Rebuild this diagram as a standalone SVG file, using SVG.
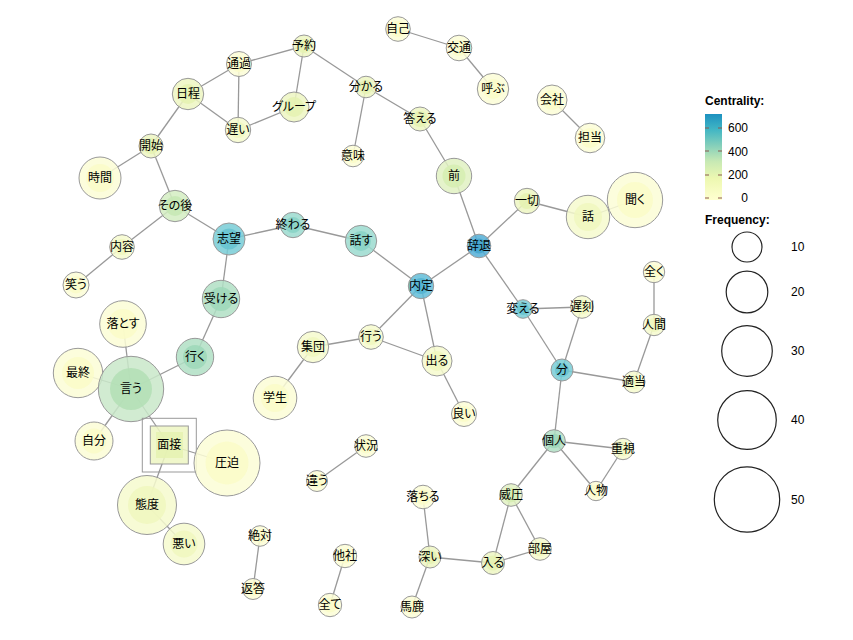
<svg xmlns="http://www.w3.org/2000/svg" width="853" height="640" viewBox="0 0 853 640">
<style>
.e{stroke:#999;stroke-width:1.3;fill:none}
.o{stroke:#999;stroke-width:1;fill-opacity:0.85}
.i{stroke:none;fill-opacity:0.85}
text{font-family:"Noto Sans CJK JP","Liberation Sans",sans-serif;font-size:12px;fill:#000;text-anchor:middle;font-feature-settings:"palt"}
.lg{font-family:"Liberation Sans",Arial,sans-serif;font-size:12px;text-anchor:start;font-feature-settings:normal}
.lb{font-weight:bold}
.lr{text-anchor:end}
.ring{fill:none;stroke:#222;stroke-width:1.2}
.tk{stroke:#8b5a50;stroke-width:1}
.y0.o{fill:#fcfdd6}.y0.i{fill:#fafcc8}
.y1.o{fill:#f6face}.y1.i{fill:#f0f7be}
.y2.o{fill:#edf6c2}.y2.i{fill:#e5f2b2}
.g1.o{fill:#e1f1c2}.g1.i{fill:#d6edb2}
.g2.o{fill:#d4edc2}.g2.i{fill:#c6e8b4}
.g3.o{fill:#c9e8c9}.g3.i{fill:#b3dfb5}
.t1.o{fill:#b0dfc4}.t1.i{fill:#9dd8b8}
.t2.o{fill:#9bdacf}.t2.i{fill:#88d2c6}
.t3.o{fill:#78ccd6}.t3.i{fill:#66c3d0}
.b1.o{fill:#62bdd8}.b1.i{fill:#52b4d2}
.b2.o{fill:#52aed6}.b2.i{fill:#42a5ce}
</style>
<defs>
<linearGradient id="cg" x1="0" y1="1" x2="0" y2="0">
<stop offset="0" stop-color="#ffffd0"/>
<stop offset="0.25" stop-color="#edf8b1"/>
<stop offset="0.45" stop-color="#c7e9b4"/>
<stop offset="0.65" stop-color="#7fcdbb"/>
<stop offset="0.82" stop-color="#41b6c4"/>
<stop offset="1" stop-color="#1d91c0"/>
</linearGradient>
</defs>
<rect width="853" height="640" fill="#fff"/>
<g id="edges">
<line class="e" x1="304" y1="46" x2="239" y2="64"/>
<line class="e" x1="304" y1="46" x2="294" y2="107"/>
<line class="e" x1="304" y1="46" x2="366" y2="87"/>
<line class="e" x1="239" y1="64" x2="188" y2="94"/>
<line class="e" x1="239" y1="64" x2="238" y2="130"/>
<line class="e" x1="188" y1="94" x2="238" y2="130"/>
<line class="e" x1="238" y1="130" x2="294" y2="107"/>
<line class="e" x1="188" y1="94" x2="151" y2="146"/>
<line class="e" x1="151" y1="146" x2="100" y2="178"/>
<line class="e" x1="151" y1="146" x2="175" y2="206"/>
<line class="e" x1="175" y1="206" x2="122" y2="247"/>
<line class="e" x1="122" y1="247" x2="76" y2="285"/>
<line class="e" x1="175" y1="206" x2="229" y2="239"/>
<line class="e" x1="229" y1="239" x2="293" y2="225"/>
<line class="e" x1="293" y1="225" x2="361" y2="241"/>
<line class="e" x1="361" y1="241" x2="421" y2="286"/>
<line class="e" x1="229" y1="239" x2="221" y2="299"/>
<line class="e" x1="221" y1="299" x2="195" y2="357"/>
<line class="e" x1="195" y1="357" x2="131" y2="389"/>
<line class="e" x1="131" y1="389" x2="123" y2="324"/>
<line class="e" x1="131" y1="389" x2="78" y2="373"/>
<line class="e" x1="131" y1="389" x2="94" y2="441"/>
<line class="e" x1="131" y1="389" x2="169" y2="445"/>
<line class="e" x1="169" y1="445" x2="227" y2="463"/>
<line class="e" x1="169" y1="445" x2="147" y2="505"/>
<line class="e" x1="147" y1="505" x2="184" y2="544"/>
<line class="e" x1="366" y1="87" x2="353" y2="156"/>
<line class="e" x1="366" y1="87" x2="420" y2="119"/>
<line class="e" x1="420" y1="119" x2="454" y2="176"/>
<line class="e" x1="454" y1="176" x2="479" y2="246"/>
<line class="e" x1="479" y1="246" x2="527" y2="201"/>
<line class="e" x1="527" y1="201" x2="588" y2="217"/>
<line class="e" x1="588" y1="217" x2="635" y2="200"/>
<line class="e" x1="398" y1="29" x2="459" y2="48"/>
<line class="e" x1="459" y1="48" x2="493" y2="89"/>
<line class="e" x1="552" y1="100" x2="590" y2="138"/>
<line class="e" x1="479" y1="246" x2="421" y2="286"/>
<line class="e" x1="479" y1="246" x2="523" y2="309"/>
<line class="e" x1="421" y1="286" x2="371" y2="337"/>
<line class="e" x1="421" y1="286" x2="437" y2="361"/>
<line class="e" x1="371" y1="337" x2="313" y2="347"/>
<line class="e" x1="371" y1="337" x2="437" y2="361"/>
<line class="e" x1="313" y1="347" x2="275" y2="398"/>
<line class="e" x1="437" y1="361" x2="464" y2="414"/>
<line class="e" x1="523" y1="309" x2="582" y2="307"/>
<line class="e" x1="523" y1="309" x2="562" y2="370"/>
<line class="e" x1="582" y1="307" x2="562" y2="370"/>
<line class="e" x1="562" y1="370" x2="634" y2="382"/>
<line class="e" x1="634" y1="382" x2="654" y2="325"/>
<line class="e" x1="654" y1="325" x2="654" y2="272"/>
<line class="e" x1="562" y1="370" x2="554" y2="441"/>
<line class="e" x1="554" y1="441" x2="623" y2="449"/>
<line class="e" x1="554" y1="441" x2="596" y2="491"/>
<line class="e" x1="623" y1="449" x2="596" y2="491"/>
<line class="e" x1="554" y1="441" x2="511" y2="495"/>
<line class="e" x1="511" y1="495" x2="540" y2="549"/>
<line class="e" x1="511" y1="495" x2="493" y2="563"/>
<line class="e" x1="493" y1="563" x2="540" y2="549"/>
<line class="e" x1="493" y1="563" x2="430" y2="557"/>
<line class="e" x1="430" y1="557" x2="423" y2="497"/>
<line class="e" x1="430" y1="557" x2="412" y2="607"/>
<line class="e" x1="366" y1="446" x2="317" y2="481"/>
<line class="e" x1="260" y1="536" x2="253" y2="589"/>
<line class="e" x1="345" y1="556" x2="330" y2="605"/>
</g>
<g id="n-yoyaku"><circle class="o y2" cx="304" cy="46" r="11"/><circle class="i y2" cx="304" cy="46" r="7"/><text x="304" y="50">予約</text></g>
<g id="n-tsuuka"><circle class="o y0" cx="239" cy="64" r="12.5"/><circle class="i y0" cx="239" cy="64" r="8"/><text x="239" y="68">通過</text></g>
<g id="n-nittei"><circle class="o y2" cx="188" cy="94" r="15.7"/><circle class="i y2" cx="188" cy="94" r="10"/><text x="188" y="98">日程</text></g>
<g id="n-group"><circle class="o y2" cx="294" cy="107" r="15"/><circle class="i y2" cx="294" cy="107" r="10"/><text x="294" y="111">グループ</text></g>
<g id="n-osoi"><circle class="o y1" cx="238" cy="130" r="12.7"/><circle class="i y1" cx="238" cy="130" r="8"/><text x="238" y="134">遅い</text></g>
<g id="n-kaishi"><circle class="o y2" cx="151" cy="146" r="12"/><circle class="i y2" cx="151" cy="146" r="8"/><text x="151" y="150">開始</text></g>
<g id="n-jikan"><circle class="o y0" cx="100" cy="178" r="21"/><circle class="i y0" cx="100" cy="178" r="14"/><text x="100" y="182">時間</text></g>
<g id="n-sonogo"><circle class="o g2" cx="175" cy="206" r="15.7"/><circle class="i g2" cx="175" cy="206" r="10"/><text x="175" y="210">その後</text></g>
<g id="n-jiko"><circle class="o y0" cx="398" cy="29" r="12.3"/><circle class="i y0" cx="398" cy="29" r="8"/><text x="398" y="33">自己</text></g>
<g id="n-koutsuu"><circle class="o y0" cx="459" cy="48" r="12.8"/><circle class="i y0" cx="459" cy="48" r="8"/><text x="459" y="52">交通</text></g>
<g id="n-yobu"><circle class="o y0" cx="493" cy="89" r="15.7"/><circle class="i y0" cx="493" cy="89" r="10"/><text x="493" y="93">呼ぶ</text></g>
<g id="n-kaisha"><circle class="o y0" cx="552" cy="100" r="15"/><circle class="i y0" cx="552" cy="100" r="10"/><text x="552" y="104">会社</text></g>
<g id="n-tantou"><circle class="o y0" cx="590" cy="138" r="14.8"/><circle class="i y0" cx="590" cy="138" r="10"/><text x="590" y="142">担当</text></g>
<g id="n-wakaru"><circle class="o y2" cx="366" cy="87" r="10.8"/><circle class="i y2" cx="366" cy="87" r="7"/><text x="366" y="91">分かる</text></g>
<g id="n-kotaeru"><circle class="o y2" cx="420" cy="119" r="12"/><circle class="i y2" cx="420" cy="119" r="8"/><text x="420" y="123">答える</text></g>
<g id="n-imi"><circle class="o y0" cx="353" cy="156" r="10.8"/><circle class="i y0" cx="353" cy="156" r="7"/><text x="353" y="160">意味</text></g>
<g id="n-mae"><circle class="o g1" cx="454" cy="176" r="17.7"/><circle class="i g1" cx="454" cy="176" r="11.5"/><text x="454" y="180">前</text></g>
<g id="n-issai"><circle class="o y2" cx="527" cy="201" r="12.7"/><circle class="i y2" cx="527" cy="201" r="8"/><text x="527" y="205">一切</text></g>
<g id="n-hanashi"><circle class="o y1" cx="588" cy="217" r="21.7"/><circle class="i y1" cx="588" cy="217" r="14"/><text x="588" y="221">話</text></g>
<g id="n-kiku"><circle class="o y0" cx="635" cy="200" r="27.7"/><circle class="i y0" cx="635" cy="200" r="18"/><text x="635" y="204">聞く</text></g>
<g id="n-hanasu"><circle class="o t2" cx="361" cy="241" r="15.7"/><circle class="i t2" cx="361" cy="241" r="10"/><text x="361" y="245">話す</text></g>
<g id="n-jitai"><circle class="o b2" cx="479" cy="246" r="11.8"/><circle class="i b2" cx="479" cy="246" r="7.5"/><text x="479" y="250">辞退</text></g>
<g id="n-naiyou"><circle class="o y1" cx="122" cy="247" r="12.3"/><circle class="i y1" cx="122" cy="247" r="8"/><text x="122" y="251">内容</text></g>
<g id="n-warau"><circle class="o y0" cx="76" cy="285" r="13"/><circle class="i y0" cx="76" cy="285" r="8.5"/><text x="76" y="289">笑う</text></g>
<g id="n-shibou"><circle class="o t3" cx="229" cy="239" r="16"/><circle class="i t3" cx="229" cy="239" r="10.5"/><text x="229" y="243">志望</text></g>
<g id="n-owaru"><circle class="o t2" cx="293" cy="225" r="12.7"/><circle class="i t2" cx="293" cy="225" r="8"/><text x="293" y="229">終わる</text></g>
<g id="n-ukeru"><circle class="o t1" cx="221" cy="299" r="18.7"/><circle class="i t1" cx="221" cy="299" r="12"/><text x="221" y="303">受ける</text></g>
<g id="n-otosu"><circle class="o y0" cx="123" cy="324" r="23.3"/><circle class="i y0" cx="123" cy="324" r="15"/><text x="123" y="328">落とす</text></g>
<g id="n-iku"><circle class="o t1" cx="195" cy="357" r="18.7"/><circle class="i t1" cx="195" cy="357" r="12"/><text x="195" y="361">行く</text></g>
<g id="n-saishuu"><circle class="o y0" cx="78" cy="373" r="24.7"/><circle class="i y0" cx="78" cy="373" r="16"/><text x="78" y="377">最終</text></g>
<g id="n-iu"><circle class="o g3" cx="131" cy="389" r="32.7"/><circle class="i g3" cx="131" cy="389" r="21"/><text x="131" y="393">言う</text></g>
<g id="n-shuudan"><circle class="o y1" cx="313" cy="347" r="15.7"/><circle class="i y1" cx="313" cy="347" r="10"/><text x="313" y="351">集団</text></g>
<g id="n-gakusei"><circle class="o y0" cx="275" cy="398" r="21.8"/><circle class="i y0" cx="275" cy="398" r="14"/><text x="275" y="402">学生</text></g>
<g id="n-naitei"><circle class="o b1" cx="421" cy="286" r="12.7"/><circle class="i b1" cx="421" cy="286" r="8"/><text x="421" y="290">内定</text></g>
<g id="n-kaeru"><circle class="o t3" cx="523" cy="309" r="9.3"/><circle class="i t3" cx="523" cy="309" r="6"/><text x="523" y="313">変える</text></g>
<g id="n-chikoku"><circle class="o y1" cx="582" cy="307" r="11.3"/><circle class="i y1" cx="582" cy="307" r="7.3"/><text x="582" y="311">遅刻</text></g>
<g id="n-mattaku"><circle class="o y0" cx="654" cy="272" r="10.7"/><circle class="i y0" cx="654" cy="272" r="7"/><text x="654" y="276">全く</text></g>
<g id="n-ningen"><circle class="o y1" cx="654" cy="325" r="10.7"/><circle class="i y1" cx="654" cy="325" r="7"/><text x="654" y="329">人間</text></g>
<g id="n-okonau"><circle class="o y1" cx="371" cy="337" r="12.3"/><circle class="i y1" cx="371" cy="337" r="8"/><text x="371" y="341">行う</text></g>
<g id="n-deru"><circle class="o y1" cx="437" cy="361" r="15"/><circle class="i y1" cx="437" cy="361" r="10"/><text x="437" y="365">出る</text></g>
<g id="n-bun"><circle class="o t3" cx="562" cy="370" r="11"/><circle class="i t3" cx="562" cy="370" r="7"/><text x="562" y="374">分</text></g>
<g id="n-tekitou"><circle class="o y1" cx="634" cy="382" r="11"/><circle class="i y1" cx="634" cy="382" r="7"/><text x="634" y="386">適当</text></g>
<g id="n-yoi"><circle class="o y0" cx="464" cy="414" r="12.5"/><circle class="i y0" cx="464" cy="414" r="8"/><text x="464" y="418">良い</text></g>
<g id="n-jibun"><circle class="o y0" cx="94" cy="441" r="19"/><circle class="i y0" cx="94" cy="441" r="12.5"/><text x="94" y="445">自分</text></g>
<g id="n-mensetsu"><rect x="142.3" y="418.3" width="54" height="53.7" fill="none" stroke="#999" stroke-width="1"/><rect class="o y2" x="150.3" y="426" width="38" height="38"/><rect class="i y2" x="156" y="432" width="27" height="26"/><text x="169.3" y="449">面接</text></g>
<g id="n-appaku"><circle class="o y0" cx="227" cy="463" r="33"/><circle class="i y0" cx="227" cy="463" r="21.5"/><text x="227" y="467">圧迫</text></g>
<g id="n-taido"><circle class="o y1" cx="147" cy="505" r="29.5"/><circle class="i y1" cx="147" cy="505" r="19"/><text x="147" y="509">態度</text></g>
<g id="n-warui"><circle class="o y1" cx="184" cy="544" r="20.8"/><circle class="i y1" cx="184" cy="544" r="13.5"/><text x="184" y="548">悪い</text></g>
<g id="n-zettai"><circle class="o y0" cx="260" cy="536" r="10.3"/><circle class="i y0" cx="260" cy="536" r="6.7"/><text x="260" y="540">絶対</text></g>
<g id="n-hentou"><circle class="o y0" cx="253" cy="589" r="10.5"/><circle class="i y0" cx="253" cy="589" r="6.8"/><text x="253" y="593">返答</text></g>
<g id="n-tasha"><circle class="o y0" cx="345" cy="556" r="11.7"/><circle class="i y0" cx="345" cy="556" r="7.5"/><text x="345" y="560">他社</text></g>
<g id="n-subete"><circle class="o y0" cx="330" cy="605" r="11.7"/><circle class="i y0" cx="330" cy="605" r="7.5"/><text x="330" y="609">全て</text></g>
<g id="n-chigau"><circle class="o y0" cx="317" cy="481" r="10.5"/><circle class="i y0" cx="317" cy="481" r="6.8"/><text x="317" y="485">違う</text></g>
<g id="n-joukyou"><circle class="o y0" cx="366" cy="446" r="11.3"/><circle class="i y0" cx="366" cy="446" r="7.3"/><text x="366" y="450">状況</text></g>
<g id="n-kojin"><circle class="o t1" cx="554" cy="441" r="11.3"/><circle class="i t1" cx="554" cy="441" r="7.3"/><text x="554" y="445">個人</text></g>
<g id="n-juushi"><circle class="o y1" cx="623" cy="449" r="10.7"/><circle class="i y1" cx="623" cy="449" r="7"/><text x="623" y="453">重視</text></g>
<g id="n-jinbutsu"><circle class="o y0" cx="596" cy="491" r="9.7"/><circle class="i y0" cx="596" cy="491" r="6.3"/><text x="596" y="495">人物</text></g>
<g id="n-ochiru"><circle class="o y0" cx="423" cy="497" r="11.8"/><circle class="i y0" cx="423" cy="497" r="7.7"/><text x="423" y="501">落ちる</text></g>
<g id="n-iatsu"><circle class="o g1" cx="511" cy="495" r="11.3"/><circle class="i g1" cx="511" cy="495" r="7.3"/><text x="511" y="499">威圧</text></g>
<g id="n-heya"><circle class="o y1" cx="540" cy="549" r="11.3"/><circle class="i y1" cx="540" cy="549" r="7.3"/><text x="540" y="553">部屋</text></g>
<g id="n-fukai"><circle class="o y2" cx="430" cy="557" r="11"/><circle class="i y2" cx="430" cy="557" r="7"/><text x="430" y="561">深い</text></g>
<g id="n-hairu"><circle class="o y2" cx="493" cy="563" r="11.5"/><circle class="i y2" cx="493" cy="563" r="7.5"/><text x="493" y="567">入る</text></g>
<g id="n-baka"><circle class="o y0" cx="412" cy="607" r="11"/><circle class="i y0" cx="412" cy="607" r="7"/><text x="412" y="611">馬鹿</text></g>
<g id="legend">
<text class="lg lb" x="705" y="105">Centrality:</text>
<rect x="705" y="114" width="17" height="86" fill="url(#cg)"/>
<line class="tk" x1="705" y1="128" x2="709" y2="128"/><line class="tk" x1="718" y1="128" x2="722" y2="128"/>
<line class="tk" x1="705" y1="151" x2="709" y2="151"/><line class="tk" x1="718" y1="151" x2="722" y2="151"/>
<line class="tk" x1="705" y1="175" x2="709" y2="175"/><line class="tk" x1="718" y1="175" x2="722" y2="175"/>
<line class="tk" x1="705" y1="198" x2="709" y2="198"/><line class="tk" x1="718" y1="198" x2="722" y2="198"/>
<text class="lg lr" x="748" y="132">600</text>
<text class="lg lr" x="748" y="156">400</text>
<text class="lg lr" x="748" y="179">200</text>
<text class="lg lr" x="748" y="202">0</text>
<text class="lg lb" x="705" y="224">Frequency:</text>
<circle class="ring" cx="747" cy="247" r="15"/>
<circle class="ring" cx="747" cy="292" r="20.8"/>
<circle class="ring" cx="747" cy="351" r="25.3"/>
<circle class="ring" cx="747" cy="420" r="29.3"/>
<circle class="ring" cx="747" cy="499.5" r="32.7"/>
<text class="lg" x="791" y="251">10</text>
<text class="lg" x="791" y="296">20</text>
<text class="lg" x="791" y="355">30</text>
<text class="lg" x="791" y="424">40</text>
<text class="lg" x="791" y="504">50</text>
</g>
</svg>
